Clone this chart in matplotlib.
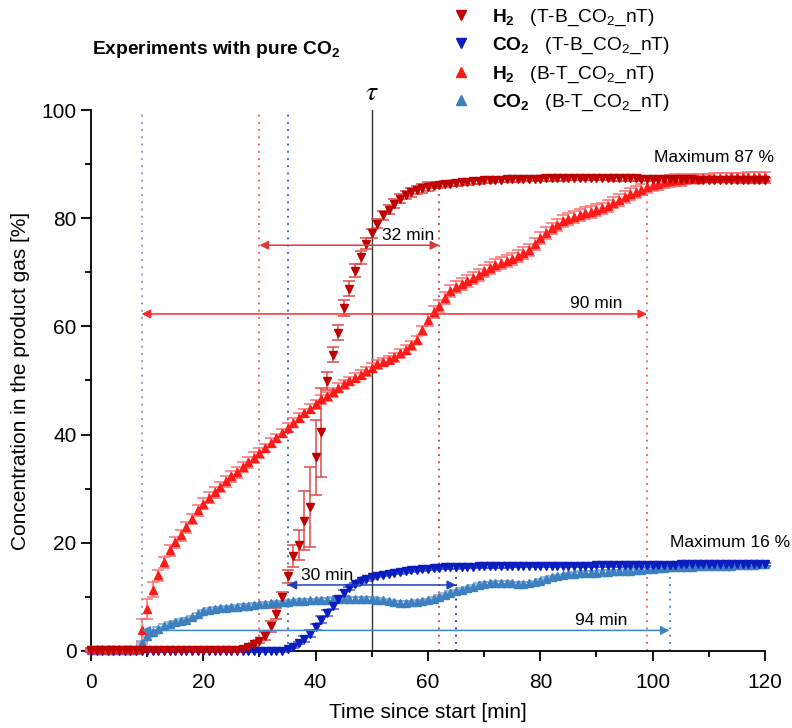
import numpy as np
import matplotlib
matplotlib.use("Agg")
import matplotlib.pyplot as plt
from matplotlib.lines import Line2D

plt.rcParams["font.family"] = ["Liberation Sans", "DejaVu Sans"]
plt.rcParams["mathtext.fontset"] = "custom"
plt.rcParams["mathtext.rm"] = "Liberation Sans"
plt.rcParams["mathtext.bf"] = "Liberation Sans:bold"
plt.rcParams["mathtext.it"] = "Liberation Sans:italic"

# time in minutes, one sample per minute
time_min = np.arange(0, 121)

# H2, T-B experiment
h2_tb = [0.2] * 27 + [0.3, 0.7, 1.2,
         1.8, 2.8, 4.6, 6.9, 9.9, 13.8, 17.6, 19.6, 24.1, 26.6,
         35.8, 40.4, 49.9, 54.8, 58.8, 63.4, 67.0, 70.3, 72.8, 75.3,
         77.2, 79.0, 80.5, 81.6, 82.7, 83.6, 84.3, 84.8, 85.2, 85.5,
         85.8, 86.0, 86.1, 86.3, 86.4, 86.5, 86.6, 86.7, 86.8, 86.9,
         87.0, 87.0, 87.1, 87.1, 87.2, 87.2, 87.2, 87.3, 87.3, 87.3,
         87.3, 87.4, 87.4, 87.4, 87.4, 87.5, 87.5, 87.5, 87.5, 87.5,
         87.5, 87.5, 87.5, 87.4, 87.4, 87.4, 87.4, 87.4, 87.3, 87.3,
         87.3, 87.3, 87.3, 87.2, 87.2, 87.2, 87.2, 87.2, 87.1, 87.1,
         87.1, 87.1, 87.1, 87.1, 87.1, 87.0, 87.0, 87.0, 87.0, 87.0,
         87.0]
h2_tb_err = [0.3] * 31 + [0.8, 1.0, 1.0, 1.0, 1.2, 2.0, 2.8, 5.5, 7.4,
             6.9, 8.3, 1.7, 1.4, 1.4, 1.4, 1.4, 1.2, 1.2, 1.0] + [0.8] * 11 + [0.5] * 60

# H2, B-T experiment
h2_bt = [0.3] * 9 + [3.8,
         7.8, 11.3, 14.0, 16.4, 18.6, 20.1, 21.4, 22.9, 24.4, 26.0,
         27.2, 28.3, 29.3, 30.3, 31.4, 32.3, 33.0, 34.0, 34.9, 35.7,
         36.6, 37.5, 38.5, 39.4, 40.3, 41.3, 42.2, 43.1, 44.0, 44.8,
         45.6, 46.5, 47.1, 47.8, 48.7, 49.3, 49.9, 50.5, 51.1, 51.7,
         52.4, 53.0, 53.4, 53.8, 54.3, 55.0, 55.7, 56.5, 57.5, 59.3,
         61.2, 62.6, 63.8, 65.2, 66.6, 67.3, 67.9, 68.4, 68.9, 69.5,
         70.2, 70.8, 71.3, 71.8, 72.1, 72.5, 73.0, 73.6, 74.2, 75.3,
         76.3, 77.2, 78.1, 78.8, 79.4, 79.9, 80.3, 80.6, 80.9, 81.2,
         81.5, 81.8, 82.3, 82.9, 83.4, 83.9, 84.4, 84.9, 85.3, 85.7,
         86.1, 86.4, 86.7, 86.9, 87.0, 87.1, 87.2, 87.3, 87.3, 87.4,
         87.4, 87.5, 87.5, 87.5, 87.6, 87.6, 87.6, 87.7, 87.7, 87.7,
         87.7]
h2_bt_err = [0.3] * 9 + [2.2, 1.8, 1.4] + [1.0] * 19 + [0.8] * 29 + [1.1] * 46 + [0.8] * 15

# CO2, T-B experiment
co2_tb = [0.0] * 35 + [0.4, 0.8, 1.5, 2.2, 3.2,
          4.4, 5.8, 7.0, 8.3, 9.6, 10.7, 11.6, 12.3, 12.9, 13.3,
          13.6, 13.9, 14.1, 14.3, 14.5, 14.6, 14.8, 14.9, 15.0, 15.1,
          15.2, 15.3, 15.4, 15.5, 15.5, 15.5, 15.6, 15.6, 15.6, 15.7,
          15.7, 15.7, 15.7, 15.7, 15.7, 15.8, 15.8, 15.8, 15.8, 15.8,
          15.8, 15.8, 15.8, 15.8, 15.8, 15.8, 15.8, 15.8, 15.8, 15.8,
          15.9, 15.9, 15.9, 15.9, 15.9, 15.9, 15.9, 15.9, 15.9, 15.9,
          15.9, 15.9, 15.9, 15.9, 15.9, 16.0, 16.0, 16.0, 16.0, 16.0,
          16.0, 16.0, 16.0, 16.0, 16.0, 16.0, 16.0, 16.0, 16.0, 16.0,
          16.0]
co2_tb_err = [0.2] * 38 + [0.6] * 8 + [0.3] * 75

# CO2, B-T experiment
co2_bt = [0.2] * 9 + [1.5,
          2.8, 3.5, 4.1, 4.6, 5.0, 5.3, 5.6, 5.8, 6.2, 6.8,
          7.3, 7.6, 7.8, 7.9, 8.0, 8.1, 8.2, 8.3, 8.4, 8.5,
          8.6, 8.7, 8.8, 8.9, 9.0, 9.1, 9.2, 9.3, 9.3, 9.4,
          9.4, 9.5, 9.5, 9.6, 9.6, 9.6, 9.6, 9.6, 9.6, 9.6,
          9.6, 9.5, 9.4, 9.2, 9.0, 8.9, 8.9, 9.0, 9.1, 9.2,
          9.4, 9.7, 10.0, 10.4, 10.7, 11.0, 11.3, 11.6, 11.9, 12.2,
          12.4, 12.5, 12.6, 12.6, 12.6, 12.5, 12.4, 12.4, 12.5, 12.7,
          13.0, 13.3, 13.6, 13.8, 14.0, 14.2, 14.3, 14.4, 14.4, 14.5,
          14.5, 14.6, 14.6, 14.7, 14.7, 14.8, 14.8, 14.9, 15.0, 15.1,
          15.2, 15.3, 15.4, 15.5, 15.5, 15.6, 15.6, 15.6, 15.7, 15.7,
          15.7, 15.8, 15.8, 15.8, 15.8, 15.9, 15.9, 15.9, 15.9, 16.0,
          16.0]
co2_bt_err = [0.3] * 121

# marker lines: (time, top, colour)
guide_lines = [(9, 100, "#8a90c8"), (30, 100, "#ff5050"), (35, 100, "#3050e0"),
               (62, 86, "#e03030"), (65, 15.5, "#1030a0"), (99, 86, "#ff5050"),
               (103, 15.5, "#3d85c6")]

# duration arrows: (start, end, level, label, label x, label y, colour)
spans = [(30, 62, 75, "32 min", 56.4, 76.8, "#d83c3c"),
         (9, 99, 62.3, "90 min", 89.9, 64.2, "#ff2a2a"),
         (35, 65, 12.2, "30 min", 42.1, 13.9, "#2040c0"),
         (9, 103, 3.8, "94 min", 90.9, 5.7, "#3d85c6")]

legend_labels = {
    "h2_tb": r"$\mathbf{H_2}$   (T-B_CO$_2$_nT)",
    "co2_tb": r"$\mathbf{CO_2}$   (T-B_CO$_2$_nT)",
    "h2_bt": r"$\mathbf{H_2}$   (B-T_CO$_2$_nT)",
    "co2_bt": r"$\mathbf{CO_2}$   (B-T_CO$_2$_nT)",
}

# drawing order (bottom to top)
series = [
    ("co2_bt", co2_bt, co2_bt_err, "^", "#3d80c0", "#7aa8d8"),
    ("co2_tb", co2_tb, co2_tb_err, "v", "#0a1ec0", "#4a5ad8"),
    ("h2_bt", h2_bt, h2_bt_err, "^", "#ff1a1a", "#ff7070"),
    ("h2_tb", h2_tb, h2_tb_err, "v", "#c00000", "#dd4a4a"),
]

fig = plt.figure(figsize=(7.92, 7.28), dpi=100)
ax = fig.add_axes([0.1149, 0.1058, 0.851, 0.7431])

for t, top, c in guide_lines:
    ax.plot([t, t], [0, top], ls=(0, (1, 3)), color=c, lw=1.3, zorder=1)
ax.plot([50, 50], [0, 100], color="#333333", lw=1.0, zorder=1)

handles = {}
for key, y, yerr, m, c, ec in series:
    ax.errorbar(time_min, y, yerr=yerr, fmt=m, color=c, ms=5.8, mec=c,
                ecolor=ec, elinewidth=1.1, capsize=4, capthick=1.1,
                clip_on=False, zorder=3)
    handles[key] = Line2D([], [], ls="none", marker=m, color=c, ms=7)

for x0, x1, lvl, txt, tx, ty, c in spans:
    ax.annotate("", xy=(x0, lvl), xytext=(x1, lvl),
                arrowprops=dict(arrowstyle="<|-|>", color=c, lw=1.1,
                                mutation_scale=13, shrinkA=0, shrinkB=0),
                zorder=4)
    ax.text(tx, ty, txt, ha="center", va="center", fontsize=12.5, zorder=5)

ax.text(111.0, 91.3, "Maximum 87 %", ha="center", va="center", fontsize=12.5)
ax.text(113.8, 20.1, "Maximum 16 %", ha="center", va="center", fontsize=12.5)
ax.text(50, 100.8, r"$\tau$", ha="center", va="bottom", fontsize=20,
        math_fontfamily="stix")

ax.set_xlim(0, 120)
ax.set_ylim(0, 100)
ax.set_xticks(np.arange(0, 121, 20))
ax.set_xticks(np.arange(10, 120, 20), minor=True)
ax.set_yticks(np.arange(0, 101, 20))
ax.set_yticks(np.arange(10, 100, 20), minor=True)
ax.spines["top"].set_visible(False)
ax.spines["right"].set_visible(False)
for s in ("left", "bottom"):
    ax.spines[s].set_linewidth(1.3)
ax.tick_params(which="major", direction="out", length=7, width=1.3, labelsize=15)
ax.tick_params(which="minor", direction="out", length=4, width=1.3)
ax.tick_params(axis="x", which="major", pad=9)
ax.set_xlabel("Time since start [min]", fontsize=15, labelpad=8)
ax.set_ylabel("Concentration in the product gas [%]", fontsize=15, labelpad=8)

fig.text(92 / 792, 1 - 50 / 728, r"Experiments with pure CO$_\mathbf{2}$",
         fontsize=13.8, fontweight="bold", va="center")

order = ["h2_tb", "co2_tb", "h2_bt", "co2_bt"]
fig.legend([handles[k] for k in order], [legend_labels[k] for k in order],
           loc="upper left", bbox_to_anchor=(436 / 792, 1.008),
           frameon=False, fontsize=13.8, handlelength=1.2, handletextpad=1.0,
           labelspacing=0.42, borderpad=0.2)

fig.savefig("out.png", dpi=100)
